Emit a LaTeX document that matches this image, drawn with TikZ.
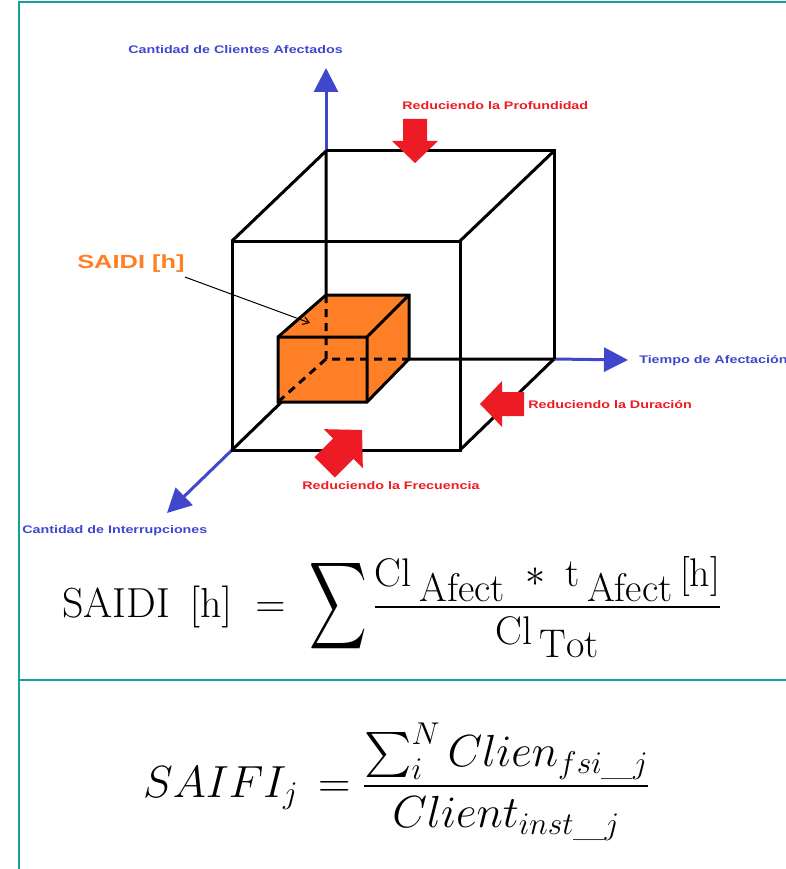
\RequirePackage{fix-cm}
\documentclass[tikz,border=0pt]{standalone}
\usepackage{graphicx}
\usepackage{fontspec}
\setsansfont{Liberation Sans}
\DeclareFontShape{OMX}{cmex}{m}{n}{<-> cmex10}{}
\usetikzlibrary{arrows.meta}
\definecolor{axisblue}{RGB}{63,72,204}
\definecolor{arrowred}{RGB}{237,28,36}
\definecolor{boxorange}{RGB}{255,127,39}
\definecolor{frameteal}{RGB}{20,160,160}

\begin{document}
\begin{tikzpicture}[x=1pt, y=-1pt,
    edge/.style={line width=3, line join=miter},
    hidden/.style={edge, dash pattern=on 8 off 6},
    axis/.style={axisblue, line width=3, -{Triangle[length=24, width=24]}},
    lbl/.style={font=\sffamily\bfseries\fontsize{11}{13}\selectfont, inner sep=0, anchor=west, xscale=1.3},
    eq/.style={inner sep=0, anchor=base west}]
\useasboundingbox (0,0) rectangle (786,869);
% frame
\draw[frameteal, line width=2] (19,869) -- (19,2) -- (786,2);
\draw[frameteal, line width=2] (19,680) -- (786,680);

% big cube: back face (O at the corner of the axes) and front face
\coordinate (O) at (326,359);
\coordinate (btl) at (326,151);
\coordinate (btr) at (554,151);
\coordinate (bbr) at (554,359);
\coordinate (ftl) at (232,241);
\coordinate (ftr) at (460,241);
\coordinate (fbr) at (460,450);
\coordinate (fbl) at (232,450);
% axis tips
\coordinate (ytip) at (326,68);
\coordinate (xtip) at (628,360);
\coordinate (ztip) at (167,513);

\draw[axis] (btl) -- (ytip);
\draw[axis] (bbr) -- (xtip);
\draw[axis] (fbl) -- (ztip);

\draw[edge] (btl) -- (btr) -- (bbr);
\draw[edge] (ftl) rectangle (fbr);
\draw[edge] (ftl) -- (btl) (ftr) -- (btr) (fbr) -- (bbr);
\draw[edge] (btl) -- (O) -- (bbr) (O) -- (fbl);

% small cube
\coordinate (stl) at (326,295);
\coordinate (str) at (409,295);
\coordinate (sbr) at (409,359);
\coordinate (sftl) at (278,337);
\coordinate (sftr) at (367,337);
\coordinate (sfbr) at (367,402);
\coordinate (sfbl) at (278,402);
\filldraw[edge, fill=boxorange] (sfbl) -- (sftl) -- (stl) -- (str) -- (sbr) -- (sfbr) -- cycle;
\draw[edge] (sftl) -- (sftr) -- (sfbr) (sftr) -- (str);
\draw[hidden] (stl) -- (O) -- (sbr) (O) -- (sfbl);

% red arrows pushing on the cube
\foreach \tx/\ty/\ang/\sc in {415/163/-90/1, 480/404/180/1, 362/430/45/1.2}
    \fill[arrowred, shift={(\tx,\ty)}, rotate=\ang, scale=\sc]
        (0,0) -- (-22,23) -- (-22,12) -- (-44,12) -- (-44,-12) -- (-22,-12) -- (-22,-23) -- cycle;

% labels
\node[lbl, text=axisblue] (ylbl) at (128,50) {Cantidad de Clientes Afectados};
\node[lbl, text=axisblue] (xlbl) at (639,361) {Tiempo de Afectación};
\node[lbl, text=axisblue] (zlbl) at (22,531) {Cantidad de Interrupciones};
\node[lbl, text=arrowred] (prof) at (402,106) {Reduciendo la Profundidad};
\node[lbl, text=arrowred] (dur) at (528,405) {Reduciendo la Duración};
\node[lbl, text=arrowred] (frec) at (302,486) {Reduciendo la Frecuencia};
\node[lbl, text=boxorange, font=\sffamily\bfseries\fontsize{19}{23}\selectfont, xscale=1.03] (saidi) at (77,264) {SAIDI [h]};
\coordinate (stop) at (310,323);
\draw[line width=1, -{Straight Barb[length=6, width=8]}] (saidi.south east) ++(0,4) -- (stop);

% formulas
\node[eq] (saidiEq) at (62,617) {\fontsize{42}{50}\selectfont
    $\mathrm{SAIDI}\ \,[\mathrm{h}]\;=\;\vcenter{\hbox{\scalebox{0.95}[1.45]{$\displaystyle\sum$}}}$\,{\fontsize{40}{48}\selectfont
    $\displaystyle\frac{\mathrm{Cl}_{\;\textstyle\mathrm{Afect}}\;\ast\;\mathrm{t}_{\;\textstyle\mathrm{Afect}}\,[\mathrm{h}]}{\mathrm{Cl}_{\;\textstyle\mathrm{Tot}}}$}};
\node[eq] (saifiEq) at (143,797) {\fontsize{45}{54}\selectfont
    $\displaystyle SAIFI_j\,= \frac{\sum_i^N Clien_{fsi\_j}}{Client_{inst\_j}}$};
\end{tikzpicture}
\end{document}
